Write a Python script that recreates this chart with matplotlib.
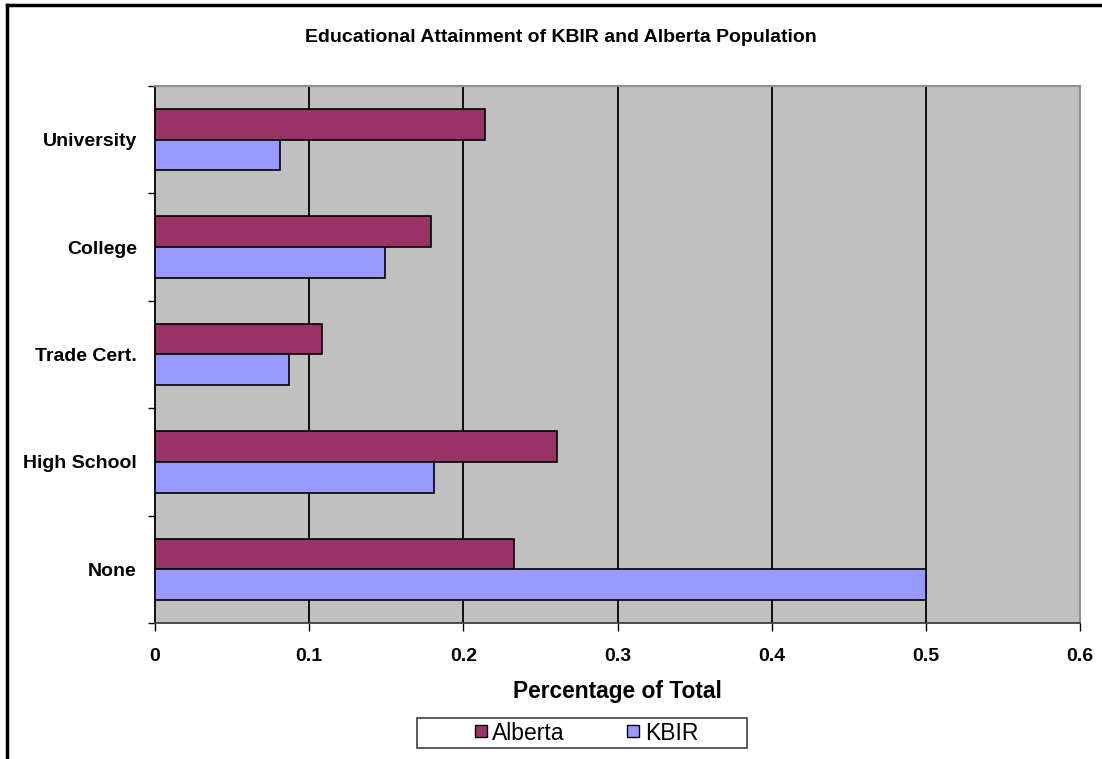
import matplotlib
matplotlib.use("Agg")
import matplotlib.pyplot as plt
from matplotlib.patches import Rectangle
from matplotlib.lines import Line2D
import numpy as np

plt.rcParams['font.family'] = ['Liberation Sans', 'DejaVu Sans']

categories = ["None", "High School", "Trade Cert.", "College", "University"]
alberta = [0.233, 0.261, 0.108, 0.179, 0.214]
kbir = [0.500, 0.181, 0.087, 0.149, 0.081]
x_ticks = [0, 0.1, 0.2, 0.3, 0.4, 0.5, 0.6]
x_tick_labels = ["0", "0.1", "0.2", "0.3", "0.4", "0.5", "0.6"]

alberta_color = "#993366"
kbir_color = "#9999FF"

W, H = 1102, 759
fig = plt.figure(figsize=(W / 100, H / 100), dpi=100)
ax = fig.add_axes([155 / W, 1 - 623 / H, (1080 - 155) / W, (623 - 86) / H])
ax.set_facecolor("#C0C0C0")

y = np.arange(len(categories))
h = 0.285
ax.barh(y + h / 2, alberta, height=h, color=alberta_color, edgecolor="black",
        linewidth=1.2, zorder=3, label="Alberta")
ax.barh(y - h / 2, kbir, height=h, color=kbir_color, edgecolor="black",
        linewidth=1.2, zorder=3, label="KBIR")

ax.set_xlim(0, 0.6)
ax.set_ylim(-0.5, len(categories) - 0.5)

ax.set_xticks(x_ticks)
ax.set_xticklabels(x_tick_labels, fontsize=14, fontweight="bold")
ax.set_yticks(y)
ax.set_yticklabels(categories, fontsize=14, fontweight="bold")
ax.tick_params(axis="y", length=0, pad=13)
ax.tick_params(axis="x", length=6, width=1, direction="out", pad=12)

# category boundary ticks on the left axis
ax.set_yticks(np.arange(-0.5, len(categories), 1.0), minor=True)
ax.tick_params(axis="y", which="minor", length=5, width=1, direction="out")

for xv in x_ticks[1:-1]:
    ax.axvline(xv, color="black", linewidth=1.3, zorder=1)

for side in ["top", "right"]:
    ax.spines[side].set_color("#909090")
    ax.spines[side].set_linewidth(1.5)
ax.spines["left"].set_color("black")
ax.spines["bottom"].set_color("#404040")
ax.spines["left"].set_linewidth(1.3)
ax.spines["bottom"].set_linewidth(1.3)

fig.text(561 / W, 1 - 37 / H, "Educational Attainment of KBIR and Alberta Population",
         ha="center", va="center", fontsize=14, fontweight="bold")
ax.set_xlabel("Percentage of Total", fontsize=16.4, fontweight="bold", labelpad=11)

handles = [
    Line2D([], [], marker="s", linestyle="none", markersize=8,
           markerfacecolor=alberta_color, markeredgecolor="black", markeredgewidth=1),
    Line2D([], [], marker="s", linestyle="none", markersize=8,
           markerfacecolor=kbir_color, markeredgecolor="black", markeredgewidth=1),
]
leg = fig.legend(handles, ["Alberta", "KBIR"], loc="center",
                 bbox_to_anchor=(586 / W, 1 - 733 / H), ncol=2, fontsize=16.5,
                 frameon=False, handletextpad=0.2, columnspacing=2.7,
                 handlelength=0.6, borderpad=0, borderaxespad=0)

# legend box
fig.add_artist(Rectangle((417 / W, 1 - 748 / H), (747 - 417) / W, 30 / H,
                         transform=fig.transFigure, facecolor="none",
                         edgecolor="#404040", linewidth=1.2, zorder=0))

# outer chart border (left and top edges)
fig.add_artist(Line2D([7 / W, 7 / W], [0, 1 - 5 / H], color="black", linewidth=2.5,
                      transform=fig.transFigure))
fig.add_artist(Line2D([7 / W, 1], [1 - 5 / H, 1 - 5 / H], color="black", linewidth=2.5,
                      transform=fig.transFigure))

fig.savefig("out.png", dpi=100)
